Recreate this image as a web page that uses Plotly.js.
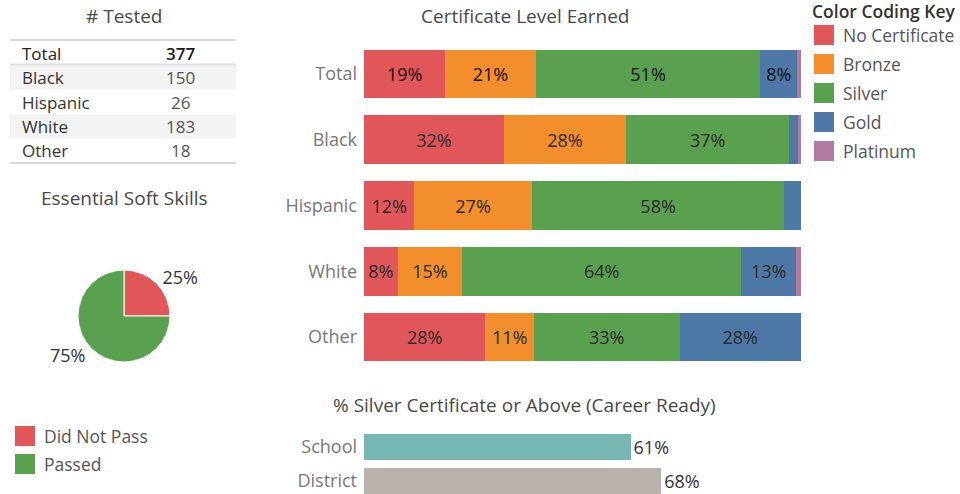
<!DOCTYPE html>
<html>
<head>
<meta charset="utf-8">
<script src="https://cdn.plot.ly/plotly-3.0.1.min.js"></script>
<style>html,body{margin:0;padding:0;background:#fff;}#chart{width:960px;height:494px;}</style>
</head>
<body>
<div id="chart"></div>
<script>
// ---- data ----
const groups = ['Total', 'Black', 'Hispanic', 'White', 'Other'];
const tested = [377, 150, 26, 183, 18];
const levels = ['No Certificate', 'Bronze', 'Silver', 'Gold', 'Platinum'];
const noCertificate = [18.6, 32.0, 11.5, 7.7, 27.8];
const bronze = [20.7, 28.0, 26.9, 14.8, 11.1];
const silver = [51.4, 37.3, 57.8, 63.8, 33.3];
const gold = [8.4, 2.0, 3.8, 12.6, 27.8];
const platinum = [0.9, 0.7, 0.0, 1.1, 0.0];
const softSkillLabels = ['Did Not Pass', 'Passed'];
const softSkillPct = [25, 75];
const readyLabels = ['School', 'District'];
const readyPct = [61, 68];

// ---- styles ----
const levelColors = ['#e15759', '#f28e2b', '#59a14f', '#4e79a7', '#b07aa1'];
const softColors = ['#e15759', '#59a14f'];
const readyColors = ['#76b7b2', '#bab0ac'];
const FONT = 'Open Sans, Lato, sans-serif';
const W = 960, H = 494;
const px = x => x / W;
const py = y => 1 - y / H;

const levelSeries = [noCertificate, bronze, silver, gold, platinum];
const traces = [];

// pie
traces.push({
  type: 'pie',
  labels: softSkillLabels,
  values: softSkillPct,
  marker: {colors: softColors, line: {color: '#ffffff', width: 1}},
  sort: false,
  direction: 'clockwise',
  rotation: 0,
  textinfo: 'percent',
  textposition: 'outside',
  textfont: {family: FONT, size: 18, color: '#333'},
  domain: {x: [px(78), px(170)], y: [py(362), py(270)]},
  showlegend: false,
  hoverinfo: 'skip'
});

// stacked bars
levelSeries.forEach((vals, k) => {
  traces.push({
    type: 'bar',
    orientation: 'h',
    name: levels[k],
    y: groups,
    x: vals,
    xaxis: 'x', yaxis: 'y',
    marker: {color: levelColors[k], line: {width: 0}},
    text: vals.map(v => Math.round(v) + '%'),
    textposition: 'inside',
    insidetextanchor: 'middle',
    textangle: 0,
    insidetextfont: {family: FONT, size: 18, color: groups.map((g, i) => i === 0 ? '#111' : '#2a2a2a')},
    showlegend: false,
    hoverinfo: 'skip'
  });
});

// career ready bars
traces.push({
  type: 'bar',
  orientation: 'h',
  y: readyLabels,
  x: readyPct,
  xaxis: 'x2', yaxis: 'y2',
  marker: {color: readyColors},
  text: readyPct.map(v => v + '%'),
  textposition: 'outside',
  textfont: {family: FONT, size: 18, color: '#333'},
  cliponaxis: false,
  showlegend: false,
  hoverinfo: 'skip'
});

// ---- custom table, legends & titles ----
const shapes = [];
const annotations = [];
const titleFont = {family: FONT, size: 19, color: '#484848'};
function label(text, x, y, anchor, font) {
  annotations.push({text: text, x: px(x), y: py(y), xref: 'paper', yref: 'paper',
    xanchor: anchor || 'center', yanchor: 'middle', showarrow: false, font: font || titleFont});
}
label('# Tested', 124, 16);
label('Essential Soft Skills', 124, 198);
label('Certificate Level Earned', 525, 16);
label('% Silver Certificate or Above (Career Ready)', 524, 405);
label('Color Coding Key', 810, 11, 'left', {family: FONT, size: 17.5, color: '#333', weight: 600});

// table rows
const rowTop = 41, rowH = 24.4;
groups.forEach((g, i) => {
  const y0 = rowTop + i * rowH, y1 = y0 + rowH, cy = (y0 + y1) / 2;
  if (i % 2 === 1) {
    shapes.push({type: 'rect', xref: 'paper', yref: 'paper', x0: px(10), x1: px(236),
      y0: py(y1), y1: py(y0), fillcolor: '#f3f3f3', line: {width: 0}, layer: 'below'});
  }
  const first = i === 0;
  label(g, 20, cy, 'left', {family: FONT, size: 17, color: first ? '#222' : '#333'});
  label(String(tested[i]), 180, cy, 'center', {family: FONT, size: 17, color: first ? '#1a1a1a' : '#555', weight: first ? 600 : 400});
});
[[40, '#cccccc', 1.5], [64.5, '#dddddd', 2], [163, '#cccccc', 1.5]].forEach(r => {
  shapes.push({type: 'line', xref: 'paper', yref: 'paper', x0: px(10), x1: px(236),
    y0: py(r[0]), y1: py(r[0]), line: {color: r[1], width: r[2]}});
});

levels.forEach((lv, i) => {
  const cy = 35 + i * 29;
  shapes.push({type: 'rect', xref: 'paper', yref: 'paper', x0: px(814), x1: px(834),
    y0: py(cy + 10), y1: py(cy - 10), fillcolor: levelColors[i], line: {width: 0}});
  label(lv, 841, cy, 'left', {family: FONT, size: 17.5, color: '#555'});
});
softSkillLabels.forEach((lb, i) => {
  const cy = 436 + i * 28;
  shapes.push({type: 'rect', xref: 'paper', yref: 'paper', x0: px(15), x1: px(35),
    y0: py(cy + 10), y1: py(cy - 10), fillcolor: softColors[i], line: {width: 0}});
  label(lb, 42, cy, 'left', {family: FONT, size: 17.5, color: '#555'});
});

const layout = {
  width: W, height: H,
  margin: {l: 0, r: 0, t: 0, b: 0},
  paper_bgcolor: '#ffffff', plot_bgcolor: '#ffffff',
  font: {family: FONT},
  barmode: 'stack',
  bargap: 0.26,
  uniformtext: {mode: 'hide', minsize: 18},
  xaxis: {domain: [px(364), px(801)], range: [0, 100], visible: false, fixedrange: true},
  yaxis: {domain: [py(370), py(41)], autorange: 'reversed', anchor: 'x',
    showgrid: false, zeroline: false, showline: false, ticks: '', ticklabelstandoff: 6,
    tickfont: {family: FONT, size: 18, color: '#777'}},
  xaxis2: {domain: [px(364), px(801)], range: [0, 100], visible: false, anchor: 'y2'},
  yaxis2: {domain: [0, py(430)], range: [1.38, -0.5], anchor: 'x2',
    showgrid: false, zeroline: false, showline: false, ticks: '', ticklabelstandoff: 6,
    tickfont: {family: FONT, size: 18, color: '#777'}},
  shapes: shapes,
  annotations: annotations,
  showlegend: false
};

Plotly.newPlot('chart', traces, layout, {displayModeBar: false, staticPlot: true});
</script>
</body>
</html>
